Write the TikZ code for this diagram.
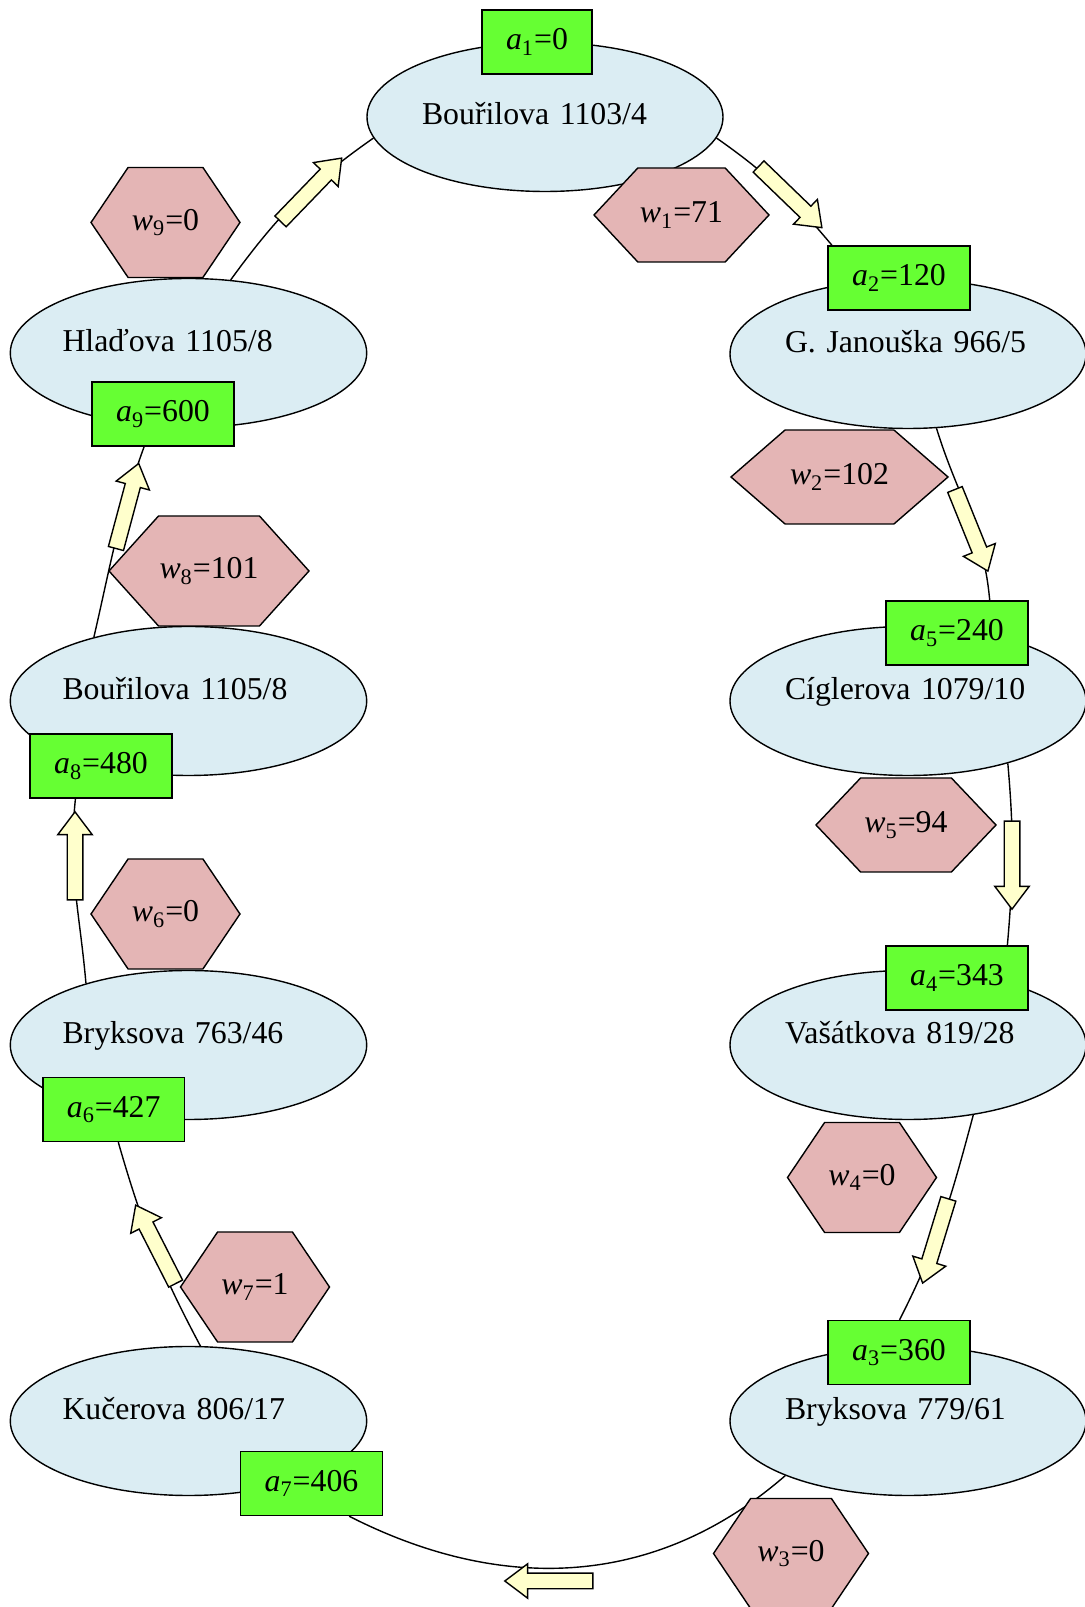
\documentclass[tikz,border=0pt]{standalone}
\usepackage{fontspec}
\setmainfont{Liberation Serif}
\usetikzlibrary{shapes.geometric, shapes.symbols, shapes.arrows, backgrounds}

\definecolor{streetblue}{HTML}{DBEDF3}
\definecolor{timegreen}{HTML}{66FF33}
\definecolor{waitpink}{HTML}{E4B5B5}
\definecolor{flowyellow}{HTML}{FFFFCC}

\newcommand{\alab}[2]{\textit{a}\textsubscript{#1}=#2}
\newcommand{\wlab}[2]{\textit{w}\textsubscript{#1}=#2}

\begin{document}
\begin{tikzpicture}[
    x=0.5pt, y=0.5pt,
    line width=0.7pt,
    font=\fontsize{15.9pt}{19pt}\selectfont,
    street/.style={ellipse, draw, fill=streetblue, minimum width=178pt, minimum height=74.5pt, inner sep=0pt, text width=123pt, align=left, text height=11pt, text depth=12.5pt},
    arrival/.style={rectangle, draw, fill=timegreen, minimum height=32pt, inner xsep=12pt, inner ysep=0pt},
    wait/.style={signal, signal to=east and west, draw, fill=waitpink, inner sep=0pt, minimum width=74.5pt, minimum height=55pt, signal pointer angle=112},
    flow/.style={single arrow, draw, fill=flowyellow, minimum height=44pt, minimum width=16.5pt, single arrow head extend=4.7pt, single arrow tip angle=74, inner xsep=0pt, inner ysep=3.55pt},
    route/.style={line width=0.7pt}
]
\useasboundingbox (0,0) rectangle (1085,1607);

% Addresses
\node[street, text depth=3pt] (e1) at (545,1490) {Bouřilova 1103/4};
\node[street] (e2) at (908,1253) {G. Janouška 966/5};
\node[street] (e5) at (908,906) {Cíglerova 1079/10};
\node[street] (e4) at (908,562) {Vašátkova 819/28};
\node[street] (e3) at (908,186) {Bryksova 779/61};
\node[street, text width=126pt] (e7) at (188.5,186) {Kučerova 806/17};
\node[street, text width=126pt] (e6) at (188.5,562) {Bryksova 763/46};
\node[street, text width=126pt] (e8) at (188.5,906) {Bouřilova 1105/8};
\node[street, text width=126pt] (e9) at (188.5,1254) {Hlaďova 1105/8};

% Arrival times
\node[arrival] (a1) at (537,1565) {\alab{1}{0}};
\node[arrival] (a2) at (899,1329) {\alab{2}{120}};
\node[arrival] (a5) at (957,974) {\alab{5}{240}};
\node[arrival] (a4) at (957,629) {\alab{4}{343}};
\node[arrival] (a3) at (899,254.5) {\alab{3}{360}};
\node[arrival] (a7) at (311.5,123.5) {\alab{7}{406}};
\node[arrival] (a6) at (113.7,497.5) {\alab{6}{427}};
\node[arrival] (a8) at (101,841) {\alab{8}{480}};
\node[arrival] (a9) at (163,1193) {\alab{9}{600}};

% Waiting times
\node[wait, minimum width=87.5pt, minimum height=47pt, signal pointer angle=94] (w1) at (681.5,1392) {\wlab{1}{71}};
\node[wait, minimum width=108.5pt, minimum height=47pt, signal pointer angle=82] (w2) at (839.5,1130) {\wlab{2}{102}};
\node[wait, minimum width=90pt, minimum height=47pt, signal pointer angle=93] (w5) at (906,782) {\wlab{5}{94}};
\node[wait] (w4) at (862,429.5) {\wlab{4}{0}};
\node[wait, minimum width=77.5pt] (w3) at (791,53.5) {\wlab{3}{0}};
\node[wait] (w7) at (255,320) {\wlab{7}{1}};
\node[wait] (w6) at (165.5,693) {\wlab{6}{0}};
\node[wait, minimum width=100pt, signal pointer angle=96] (w8) at (209,1036) {\wlab{8}{101}};
\node[wait] (w9) at (165.5,1384.5) {\wlab{9}{0}};

% Routes
\begin{scope}[on background layer]
\draw[route] (e1.-7) to[out=-35, in=130] (a2.154);
\draw[route] (e2.-69) to[out=-73, in=95] (a5.45);
\draw[route] (e5.-32) to[out=-85, in=85] (a4.33);
\draw[route] (e4.-47) to[out=-105, in=63] (a3.89);
\draw[route] (e3.204) to[out=-139, in=-27] (a7.-41);
\draw[route] (e7.81) to[out=118, in=-74] (a6.-82);
\draw[route] (e6.149) to[out=95, in=-96] (a8.-128);
\draw[route] (e8.146) to[out=77, in=-110] (a9.-120);
\draw[route] (e9.60) to[out=54, in=215] (e1.187);
\end{scope}

% Direction
\node[flow, rotate=-44] (f12) at (786.5,1413.5) {};
\node[flow, rotate=-68] (f25) at (969.5,1081.5) {};
\node[flow, rotate=-90] (f54) at (1012,747) {};
\node[flow, rotate=-107] (f43) at (937,371) {};
\node[flow, rotate=180] (f37) at (554,26) {};
\node[flow, rotate=117] (f76) at (158,358) {};
\node[flow, rotate=90] (f68) at (75,746) {};
\node[flow, rotate=75] (f89) at (126,1096) {};
\node[flow, rotate=46] (f91) at (307.5,1413.5) {};

\end{tikzpicture}
\end{document}
